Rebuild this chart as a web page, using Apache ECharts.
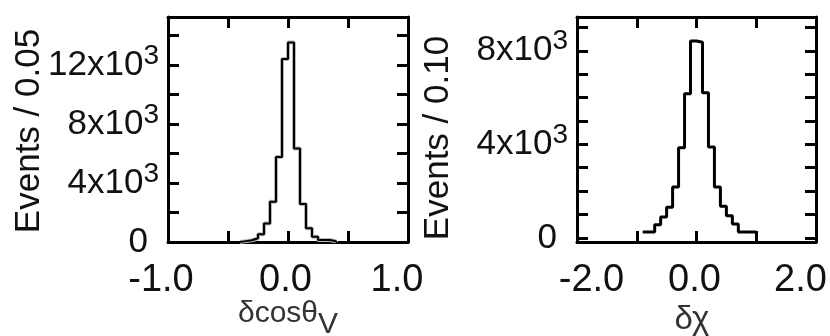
<!DOCTYPE html>
<html>
<head>
<meta charset="utf-8">
<script src="https://cdn.jsdelivr.net/npm/echarts@6/dist/echarts.min.js"></script>
<style>
html,body{margin:0;padding:0;background:#fff;}
#c{width:830px;height:336px;}
</style>
</head>
<body>
<div id="c"></div>
<script>
// ---------- data ----------
const leftBinWidth = 0.05;
const leftBinCenters = [-0.375,-0.325,-0.275,-0.225,-0.175,-0.125,-0.075,-0.025,0.025,0.075,0.125,0.175,0.225,0.275,0.325,0.375];
const leftCounts     = [60,120,250,520,1260,2720,5760,12410,13530,6330,2570,930,360,140,130,50];

const rightBinWidth = 0.1;
const rightBinCenters = [-0.85,-0.75,-0.65,-0.55,-0.45,-0.35,-0.25,-0.15,-0.05,0.05,0.15,0.25,0.35,0.45,0.55,0.65,0.75,0.85,0.95];
const rightCounts     = [250,250,565,895,1310,2170,3850,6160,8420,8360,6200,3890,2170,1350,940,590,250,250,250];

const leftXLabelValues = [-1, 0, 1];
const leftXLabels = ['-1.0', '0.0', '1.0'];
const rightXLabelValues = [-2, 0, 2];
const rightXLabels = ['-2.0', '0.0', '2.0'];

const leftYLabelValues = [0, 4000, 8000, 12000];
const leftYLabels = ['0', '4x10', '8x10', '12x10'];
const rightYTickValues = [0,1000,2000,3000,4000,5000,6000,7000,8000,9000];
const rightYLabelValues = [0, 4000, 8000];
const rightYLabels = ['0', '4x10', '8x10'];
const yLabelExponent = '3';

const leftYTitle = 'Events / 0.05';
const rightYTitle = 'Events / 0.10';
const leftXTitleMain = 'δcosθ';
const leftXTitleSub = 'V';
const rightXTitle = 'δχ';

// ---------- helpers ----------
// step outline; closeToZero drops the outline to zero at both ends
function stepPoints(centers, counts, w, closeToZero) {
  const pts = [];
  if (closeToZero) pts.push([centers[0] - w / 2, 0]);
  centers.forEach((c, i) => pts.push([c - w / 2, counts[i]]));
  const end = centers[centers.length - 1] + w / 2;
  pts.push([end, closeToZero ? 0 : counts[counts.length - 1]]);
  return pts;
}
const FF = '"Liberation Sans", Arial, Helvetica, sans-serif';
const TXT = '#111';

function xFormatter(values, labels, styles) {
  return function (v) {
    for (let i = 0; i < values.length; i++) {
      if (Math.abs(v - values[i]) < 1e-9) return '{' + styles[i] + '|' + labels[i] + '}';
    }
    return '';
  };
}
function yFormatter(values, labels) {
  return function (v) {
    for (let i = 0; i < values.length; i++) {
      if (Math.abs(v - values[i]) < 1e-6) {
        if (values[i] === 0) return '{z|' + labels[i] + '}';
        return '{m|' + labels[i] + '}{s|' + yLabelExponent + '}';
      }
    }
    return '';
  };
}
const xRich = {
  a: {fontFamily: FF, fontSize: 38, color: TXT, padding: [0, 14, 0, 0]},
  b: {fontFamily: FF, fontSize: 38, color: TXT, padding: [0, 5, 0, 0]},
  c: {fontFamily: FF, fontSize: 38, color: TXT, padding: [0, 22, 0, 0]},
  d: {fontFamily: FF, fontSize: 38, color: TXT, padding: [0, 0, 0, 29]},
  e: {fontFamily: FF, fontSize: 38, color: TXT, padding: [0, 4, 0, 0]},
  f: {fontFamily: FF, fontSize: 38, color: TXT, padding: [0, 31, 0, 0]}
};
const yRich = {
  m: {fontFamily: FF, fontSize: 35, color: TXT},
  s: {fontFamily: FF, fontSize: 28, color: TXT, padding: [0, 0, 18, 0]},
  z: {fontFamily: FF, fontSize: 35, color: TXT, padding: [0, 11, 0, 0]}
};
const frameLine = {show: true, onZero: false, lineStyle: {color: '#000', width: 3}};
const tick = {show: true, inside: true, length: 11, lineStyle: {color: '#000', width: 3}};

const chart = echarts.init(document.getElementById('c'), null, {renderer: 'canvas'});
chart.setOption({
  animation: false,
  backgroundColor: '#fff',
  grid: [
    {left: 168, top: 17, width: 240, height: 225, containLabel: false},
    {left: 577, top: 17, width: 239, height: 225, containLabel: false}
  ],
  xAxis: [
    {gridIndex: 0, type: 'value', min: -1, max: 1, interval: 0.5, position: 'bottom',
     axisLine: frameLine, axisTick: tick, splitLine: {show: false},
     axisLabel: {show: true, margin: 20, showMinLabel: true, showMaxLabel: true,
       formatter: xFormatter(leftXLabelValues, leftXLabels, ['a', 'b', 'c']), rich: xRich}},
    {gridIndex: 0, type: 'value', min: -1, max: 1, interval: 0.5, position: 'top',
     axisLine: frameLine, axisTick: tick, splitLine: {show: false}, axisLabel: {show: false}},
    {gridIndex: 1, type: 'value', min: -2, max: 2, interval: 1, position: 'bottom',
     axisLine: frameLine, axisTick: tick, splitLine: {show: false},
     axisLabel: {show: true, margin: 20, showMinLabel: true, showMaxLabel: true,
       formatter: xFormatter(rightXLabelValues, rightXLabels, ['d', 'e', 'f']), rich: xRich}},
    {gridIndex: 1, type: 'value', min: -2, max: 2, interval: 1, position: 'top',
     axisLine: frameLine, axisTick: tick, splitLine: {show: false}, axisLabel: {show: false}}
  ],
  yAxis: [
    {gridIndex: 0, type: 'value', min: 0, max: 15250, interval: 2000, position: 'left',
     axisLine: frameLine, axisTick: tick, splitLine: {show: false},
     axisLabel: {show: true, margin: 9, showMinLabel: true, showMaxLabel: false,
       formatter: yFormatter(leftYLabelValues, leftYLabels), rich: yRich}},
    {gridIndex: 0, type: 'value', min: 0, max: 15250, interval: 2000, position: 'right',
     axisLine: frameLine, axisTick: tick, splitLine: {show: false}, axisLabel: {show: false}},
    {gridIndex: 1, type: 'value', min: -177, max: 9443, position: 'left',
     axisLine: frameLine, axisTick: Object.assign({}, tick, {customValues: rightYTickValues}),
     splitLine: {show: false},
     axisLabel: {show: true, margin: 9, customValues: rightYLabelValues,
       formatter: yFormatter(rightYLabelValues, rightYLabels), rich: yRich}},
    {gridIndex: 1, type: 'value', min: -177, max: 9443, position: 'right',
     axisLine: frameLine, axisTick: Object.assign({}, tick, {customValues: rightYTickValues}),
     splitLine: {show: false}, axisLabel: {show: false}}
  ],
  series: [
    {type: 'line', xAxisIndex: 0, yAxisIndex: 0, step: 'end', symbol: 'none', clip: true,
     lineStyle: {color: '#b8b8b8', width: 4}, data: stepPoints(leftBinCenters, leftCounts, leftBinWidth, true), z: 1},
    {type: 'line', xAxisIndex: 0, yAxisIndex: 0, step: 'end', symbol: 'none', clip: true,
     lineStyle: {color: '#000', width: 2}, data: stepPoints(leftBinCenters, leftCounts, leftBinWidth, true), z: 2},
    {type: 'line', xAxisIndex: 2, yAxisIndex: 2, step: 'end', symbol: 'none', clip: true,
     lineStyle: {color: '#000', width: 3}, data: stepPoints(rightBinCenters, rightCounts, rightBinWidth, false), z: 2}
  ],
  graphic: [
    {type: 'text', x: 29, y: 131, rotation: Math.PI / 2,
     style: {text: leftYTitle, fontFamily: FF, fontSize: 35, fill: TXT, align: 'center', verticalAlign: 'middle'}},
    {type: 'text', x: 438, y: 138, rotation: Math.PI / 2,
     style: {text: rightYTitle, fontFamily: FF, fontSize: 35, fill: TXT, align: 'center', verticalAlign: 'middle'}},
    {type: 'text', x: 288, y: 314,
     style: {text: '{a|' + leftXTitleMain + '}{b|' + leftXTitleSub + '}', align: 'center', verticalAlign: 'middle',
       rich: {a: {fontFamily: FF, fontSize: 30, fill: '#333', color: '#333'},
              b: {fontFamily: FF, fontSize: 30, fill: '#333', color: '#333', padding: [21, 0, 0, 0]}}}},
    {type: 'text', x: 692, y: 320,
     style: {text: rightXTitle, fontFamily: FF, fontSize: 33, fill: '#333', align: 'center', verticalAlign: 'middle'}}
  ]
});
</script>
</body>
</html>
